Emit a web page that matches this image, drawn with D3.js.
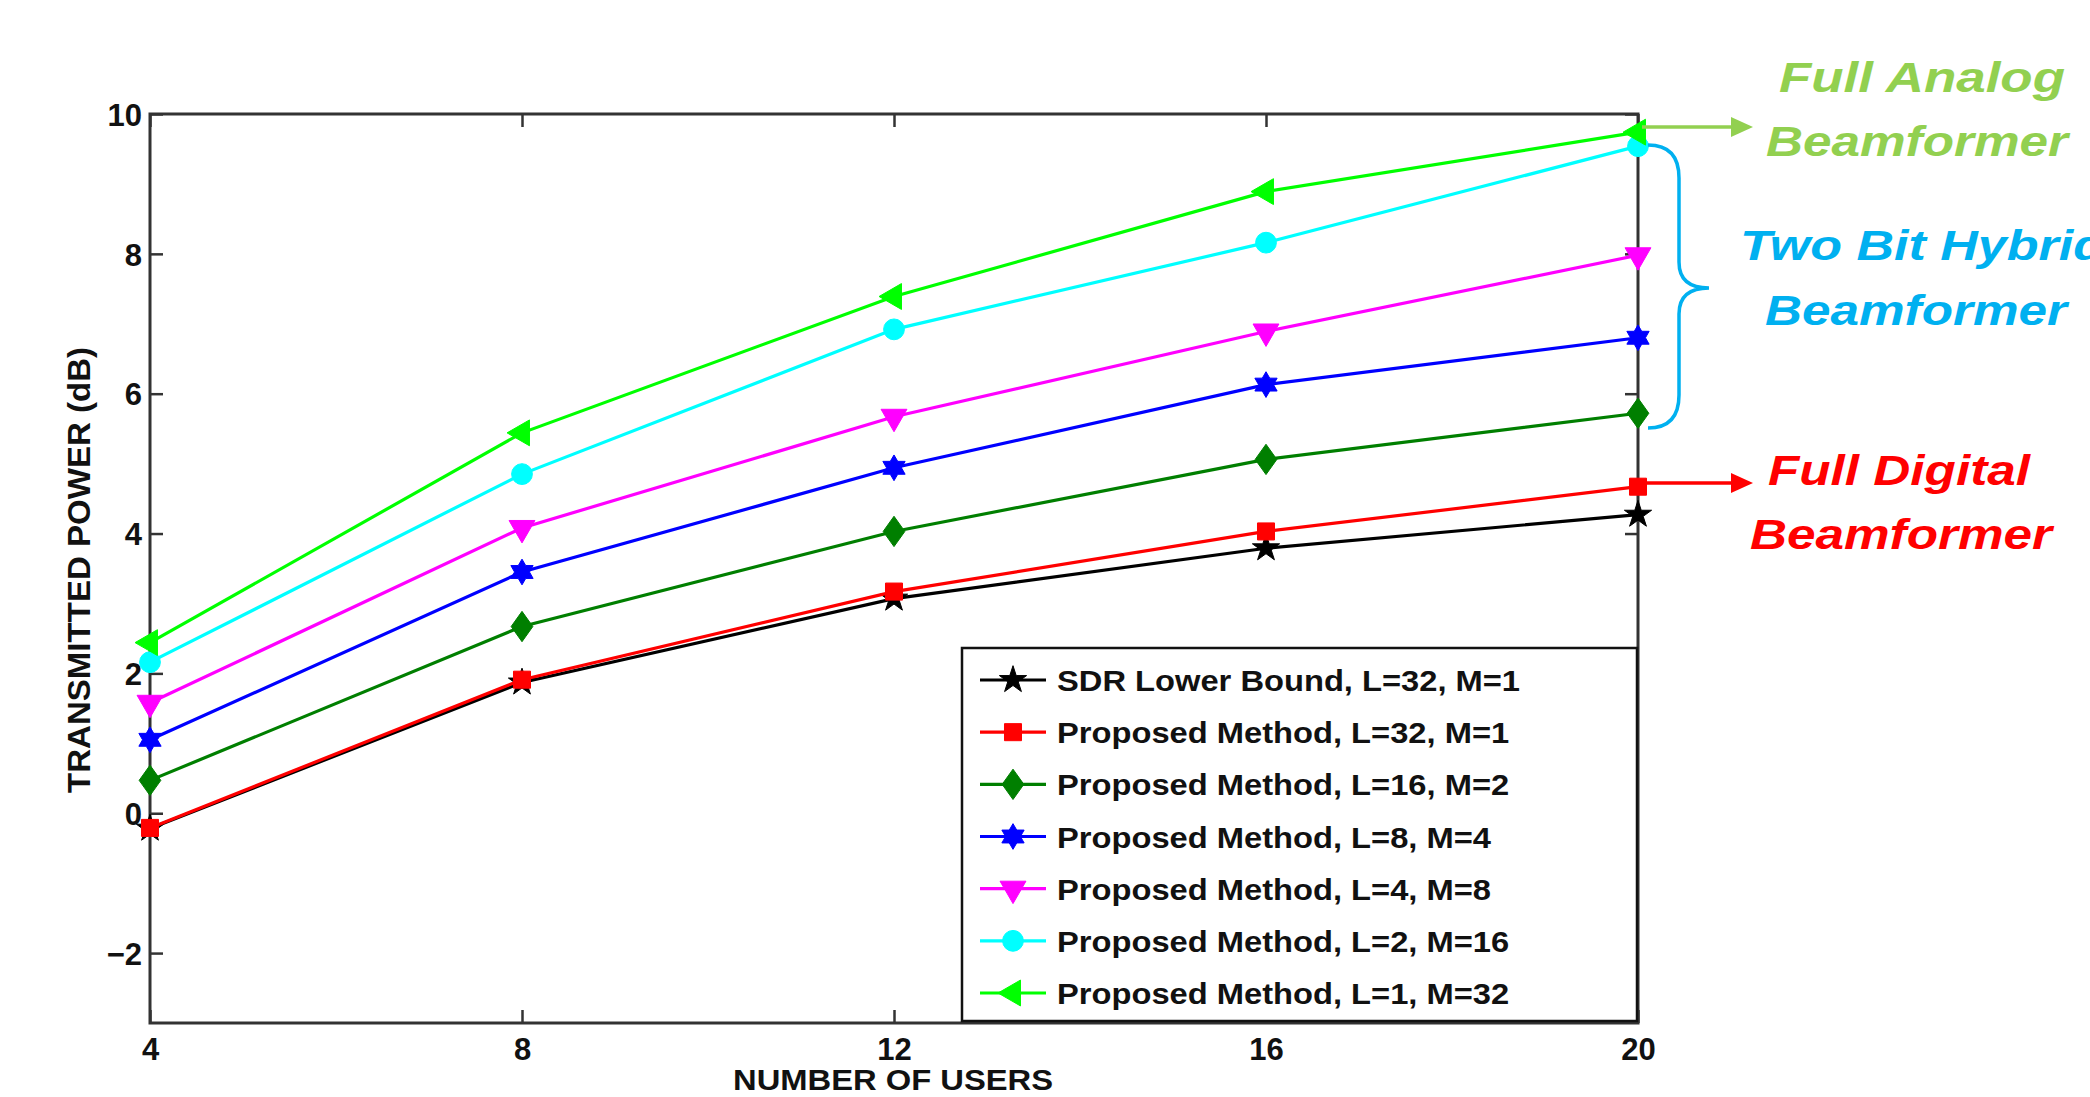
<!DOCTYPE html>
<html><head><meta charset="utf-8">
<script src="https://cdn.jsdelivr.net/npm/d3@7"></script>
<style>body{margin:0;background:#fff}svg{display:block}</style>
</head><body>
<svg id="c" width="2090" height="1097"></svg>
<script>
const users = [4, 8, 12, 16, 20];
const sdrL32M1 = [-0.22, 1.87, 3.07, 3.79, 4.27];
const pmL32M1 = [-0.21, 1.91, 3.17, 4.03, 4.67];
const pmL16M2 = [0.47, 2.67, 4.03, 5.06, 5.72];
const pmL8M4 = [1.05, 3.45, 4.94, 6.13, 6.80];
const pmL4M8 = [1.58, 4.08, 5.67, 6.89, 7.98];
const pmL2M16 = [2.16, 4.85, 6.92, 8.16, 9.54];
const pmL1M32 = [2.44, 5.44, 7.39, 8.89, 9.74];
const seriesNames = ["SDR Lower Bound, L=32, M=1", "Proposed Method, L=32, M=1", "Proposed Method, L=16, M=2",
  "Proposed Method, L=8, M=4", "Proposed Method, L=4, M=8", "Proposed Method, L=2, M=16", "Proposed Method, L=1, M=32"];
const yTicks = [-2, 0, 2, 4, 6, 8, 10];
const xTicks = [4, 8, 12, 16, 20];
const xTitle = "NUMBER OF USERS";
const yTitle = "TRANSMITTED POWER (dB)";

const seriesValues = [sdrL32M1, pmL32M1, pmL16M2, pmL8M4, pmL4M8, pmL2M16, pmL1M32];
const colors = ["#000000", "#ff0000", "#007f00", "#0000ff", "#ff00ff", "#00ffff", "#00ff00"];

const hexagram = { draw(ctx, size) {
  const r = Math.sqrt(size) * 0.62, ri = r * 0.58;
  for (let i = 0; i < 12; i++) {
    const a = -Math.PI / 2 + i * Math.PI / 6, rr = i % 2 ? ri : r;
    const px = rr * Math.cos(a), py = rr * Math.sin(a);
    i ? ctx.lineTo(px, py) : ctx.moveTo(px, py);
  }
  ctx.closePath();
}};
const diamondM = { draw(ctx, size) {
  const w = Math.sqrt(size) * 0.5, h = Math.sqrt(size) * 0.7;
  ctx.moveTo(0, -h); ctx.lineTo(w, 0); ctx.lineTo(0, h); ctx.lineTo(-w, 0); ctx.closePath();
}};
const markers = [
  {type: d3.symbolStar, size: 230, rot: 0},
  {type: d3.symbolSquare, size: 290, rot: 0},
  {type: diamondM, size: 470, rot: 0},
  {type: hexagram, size: 430, rot: 0},
  {type: d3.symbolTriangle, size: 290, rot: 180},
  {type: d3.symbolCircle, size: 340, rot: 0},
  {type: d3.symbolTriangle, size: 290, rot: -90}
];

const svg = d3.select("#c");
const x = d3.scaleLinear().domain([4, 20]).range([150, 1638]);
const y = d3.scaleLinear().domain([-3, 10]).range([1023, 114]);
const FONT = "'Liberation Sans', Arial, sans-serif";

// axes frame with inward ticks
const axStroke = "#333", axW = 3, tl = 13;
svg.append("rect").attr("x", x(4)).attr("y", y(10)).attr("width", x(20) - x(4)).attr("height", y(-3) - y(10))
  .attr("fill", "none").attr("stroke", axStroke).attr("stroke-width", axW);
const yAxisL = d3.axisLeft(y).tickValues(yTicks).tickSize(-tl).tickFormat(d => d < 0 ? "\u2212" + Math.abs(d) : d).tickPadding(8);
const gL = svg.append("g").attr("transform", `translate(${x(4)},0)`).call(yAxisL);
const yAxisR = d3.axisRight(y).tickValues(yTicks).tickSize(-tl).tickFormat("");
const gR = svg.append("g").attr("transform", `translate(${x(20)},0)`).call(yAxisR);
const xAxisB = d3.axisBottom(x).tickValues(xTicks).tickSize(-tl).tickPadding(15);
const gB = svg.append("g").attr("transform", `translate(0,${y(-3)})`).call(xAxisB);
const xAxisT = d3.axisTop(x).tickValues(xTicks).tickSize(-tl).tickFormat("");
const gT = svg.append("g").attr("transform", `translate(0,${y(10)})`).call(xAxisT);
[gL, gR, gB, gT].forEach(g => {
  g.select(".domain").remove();
  g.selectAll(".tick line").attr("stroke", axStroke).attr("stroke-width", 2.5);
  g.selectAll(".tick text").attr("font-family", FONT).attr("font-weight", "bold").attr("font-size", 31).attr("fill", "#111");
});
gL.selectAll(".tick text").attr("dy", "0.36em");
gB.selectAll(".tick text").attr("dy", "0.71em");

// axis titles
svg.append("text").attr("x", 893).attr("y", 1090).attr("text-anchor", "middle")
  .attr("font-family", FONT).attr("font-weight", "bold").attr("font-size", 29)
  .attr("textLength", 320).attr("lengthAdjust", "spacingAndGlyphs").attr("fill", "#111").text(xTitle);
svg.append("text").attr("transform", "translate(90,570) rotate(-90)").attr("text-anchor", "middle")
  .attr("font-family", FONT).attr("font-weight", "bold").attr("font-size", 31)
  .attr("textLength", 446).attr("lengthAdjust", "spacingAndGlyphs").attr("fill", "#111").text(yTitle);

// series
const line = d3.line().x((d, i) => x(users[i])).y(d => y(d));
seriesValues.forEach((vals, k) => {
  const g = svg.append("g");
  g.append("path").attr("d", line(vals)).attr("fill", "none").attr("stroke", colors[k]).attr("stroke-width", 3.2);
  const sym = d3.symbol().type(markers[k].type).size(markers[k].size);
  g.selectAll("path.m").data(vals).join("path").attr("class", "m")
    .attr("transform", (d, i) => `translate(${x(users[i])},${y(d)}) rotate(${markers[k].rot})`)
    .attr("d", sym).attr("fill", colors[k]).attr("stroke", colors[k]).attr("stroke-width", 1);
});

// legend
const lg = svg.append("g");
lg.append("rect").attr("x", 962).attr("y", 648).attr("width", 1637 - 962).attr("height", 1021 - 648)
  .attr("fill", "#fff").attr("stroke", "#111").attr("stroke-width", 2.5);
const legY = d3.scaleLinear().domain([0, 6]).range([680, 993]);
seriesNames.forEach((name, k) => {
  const cy = legY(k);
  lg.append("line").attr("x1", 980).attr("x2", 1046).attr("y1", cy).attr("y2", cy)
    .attr("stroke", colors[k]).attr("stroke-width", 3.2);
  lg.append("path").attr("transform", `translate(1013,${cy}) rotate(${markers[k].rot})`)
    .attr("d", d3.symbol().type(markers[k].type).size(markers[k].size)).attr("fill", colors[k]).attr("stroke", colors[k]);
  lg.append("text").attr("transform", `translate(1057,${cy + 11}) scale(1.09,1)`)
    .attr("font-family", FONT).attr("font-weight", "bold").attr("font-size", 30).attr("fill", "#111").text(name);
});

// annotations
const ann = (txt, cx, by, col, len) => svg.append("text").attr("x", cx).attr("y", by).attr("text-anchor", "middle")
  .attr("font-family", FONT).attr("font-weight", "bold").attr("font-style", "italic").attr("font-size", 43)
  .attr("fill", col).attr("textLength", len).attr("lengthAdjust", "spacingAndGlyphs").text(txt);
const cG = "#92d050", cB = "#00b0f0", cR = "#ff0000";
ann("Full Analog", 1922, 92, cG, 286);
ann("Beamformer", 1917, 156, cG, 302);
svg.append("text").attr("x", 1740).attr("y", 260).attr("font-family", FONT).attr("font-weight", "bold")
  .attr("font-style", "italic").attr("font-size", 43).attr("fill", cB)
  .attr("textLength", 365).attr("lengthAdjust", "spacingAndGlyphs").text("Two Bit Hybrid");
ann("Beamformer", 1916, 325, cB, 302);
ann("Full Digital", 1899, 485, cR, 262);
ann("Beamformer", 1901, 549, cR, 302);

// arrows
const arrow = (x1, x2, yy, col) => {
  svg.append("line").attr("x1", x1).attr("x2", x2 - 14).attr("y1", yy).attr("y2", yy).attr("stroke", col).attr("stroke-width", 3.5);
  svg.append("path").attr("d", `M${x2},${yy} L${x2 - 22},${yy - 10} L${x2 - 22},${yy + 10} Z`).attr("fill", col);
};
arrow(1642, 1753, 127, cG);
arrow(1642, 1753, 483, cR);

// brace
svg.append("path").attr("d", "M1648,145 Q1679,145 1679,178 L1679,262 Q1679,288 1709,288 Q1679,288 1679,314 L1679,395 Q1679,428 1648,428")
  .attr("fill", "none").attr("stroke", cB).attr("stroke-width", 3.5);
</script>
</body></html>
